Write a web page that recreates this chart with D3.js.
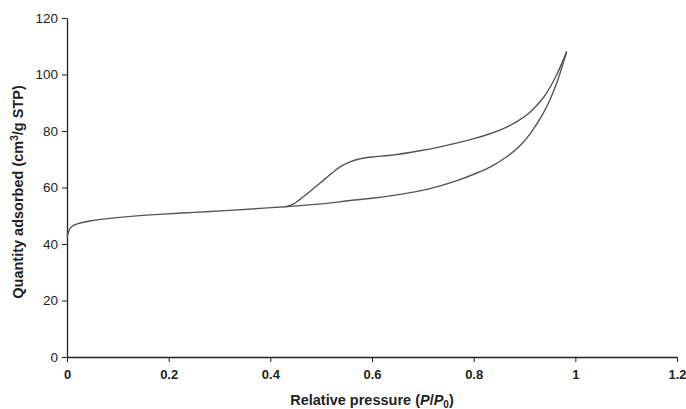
<!DOCTYPE html>
<html>
<head>
<meta charset="utf-8">
<script src="https://cdn.jsdelivr.net/npm/d3@7"></script>
<style>
  body { margin: 0; background: #fff; }
  svg { font-family: "Liberation Sans", Arial, sans-serif; }
</style>
</head>
<body>
<div id="chart"></div>
<script>
// adsorption branch (lower curve)
const adsP = [0, 0.003, 0.006, 0.012, 0.02, 0.035, 0.05, 0.08, 0.12, 0.18, 0.25, 0.32, 0.38, 0.43, 0.5, 0.557, 0.6, 0.642, 0.694, 0.734, 0.77, 0.799, 0.835, 0.865, 0.89, 0.911, 0.937, 0.957, 0.97, 0.983];
const adsQ = [42.5, 44.2, 45.5, 46.5, 47.1, 47.8, 48.3, 49.0, 49.7, 50.5, 51.2, 51.9, 52.6, 53.2, 54.2, 55.4, 56.2, 57.2, 58.8, 60.6, 62.6, 64.6, 67.5, 70.9, 74.6, 79.0, 86.3, 94.0, 100.5, 108.1];

// desorption branch (upper curve)
const desP = [0.43, 0.445, 0.458, 0.478, 0.498, 0.518, 0.537, 0.557, 0.575, 0.6, 0.642, 0.694, 0.734, 0.799, 0.835, 0.865, 0.885, 0.908, 0.928, 0.944, 0.963, 0.983];
const desQ = [53.2, 54.1, 55.8, 58.6, 61.6, 64.6, 67.3, 69.1, 70.1, 70.8, 71.5, 73.0, 74.4, 77.2, 79.2, 81.4, 83.3, 86.2, 89.8, 93.6, 99.8, 108.1];

const xTicks = [0, 0.2, 0.4, 0.6, 0.8, 1, 1.2];
const yTicks = [0, 20, 40, 60, 80, 100, 120];

const W = 686, H = 409;
const margin = { top: 18, right: 9, bottom: 52, left: 67 };
const width = W - margin.left - margin.right,
      height = H - margin.top - margin.bottom;

const svg = d3.select("#chart").append("svg")
    .attr("width", W)
    .attr("height", H);

const g = svg.append("g")
    .attr("transform", "translate(" + margin.left + "," + margin.top + ")");

const x = d3.scaleLinear().domain([0, 1.2]).range([0, width]);
const y = d3.scaleLinear().domain([0, 120]).range([height, 0]);

// axes
const xAxis = g.append("g")
    .attr("transform", "translate(0," + height + ")")
    .call(d3.axisBottom(x).tickValues(xTicks).tickSize(5).tickSizeOuter(0).tickFormat(d3.format("")));
const yAxis = g.append("g")
    .call(d3.axisLeft(y).tickValues(yTicks).tickSize(5).tickSizeOuter(0));

[xAxis, yAxis].forEach(a => {
  a.select(".domain").attr("stroke", "#222").attr("stroke-width", 1.3);
  a.selectAll(".tick line").attr("stroke", "#222").attr("stroke-width", 1);
});
xAxis.selectAll("text")
    .attr("font-size", 13).attr("font-weight", "bold").attr("fill", "#222").attr("dy", "1.1em");
yAxis.selectAll("text")
    .attr("font-size", 13.5).attr("fill", "#222").attr("x", -9);

// curves
const line = d3.line()
    .x(d => x(d[0]))
    .y(d => y(d[1]))
    .curve(d3.curveCatmullRom.alpha(0.5));

const ads = adsP.map((p, i) => [p, adsQ[i]]);
const des = desP.map((p, i) => [p, desQ[i]]);

[ads, des].forEach(data => {
  g.append("path")
      .datum(data)
      .attr("fill", "none")
      .attr("stroke", "#555")
      .attr("stroke-width", 1.4)
      .attr("d", line);
});

// axis titles
const xt = svg.append("text")
    .attr("x", 372)
    .attr("y", 405)
    .attr("text-anchor", "middle")
    .attr("font-size", 14.5)
    .attr("font-weight", "bold")
    .attr("fill", "#222");
xt.append("tspan").text("Relative pressure (");
xt.append("tspan").attr("font-style", "italic").text("P");
xt.append("tspan").text("/");
xt.append("tspan").attr("font-style", "italic").text("P");
xt.append("tspan").attr("font-size", 10).attr("dy", 3).text("0");
xt.append("tspan").attr("dy", -3).text(")");

const yt = svg.append("text")
    .attr("transform", "translate(23,192) rotate(-90)")
    .attr("text-anchor", "middle")
    .attr("font-size", 14.5)
    .attr("font-weight", "bold")
    .attr("fill", "#222");
yt.append("tspan").text("Quantity adsorbed (cm");
yt.append("tspan").attr("font-size", 10).attr("dy", -5).text("3");
yt.append("tspan").attr("dy", 5).text("/g STP)");
</script>
</body>
</html>
